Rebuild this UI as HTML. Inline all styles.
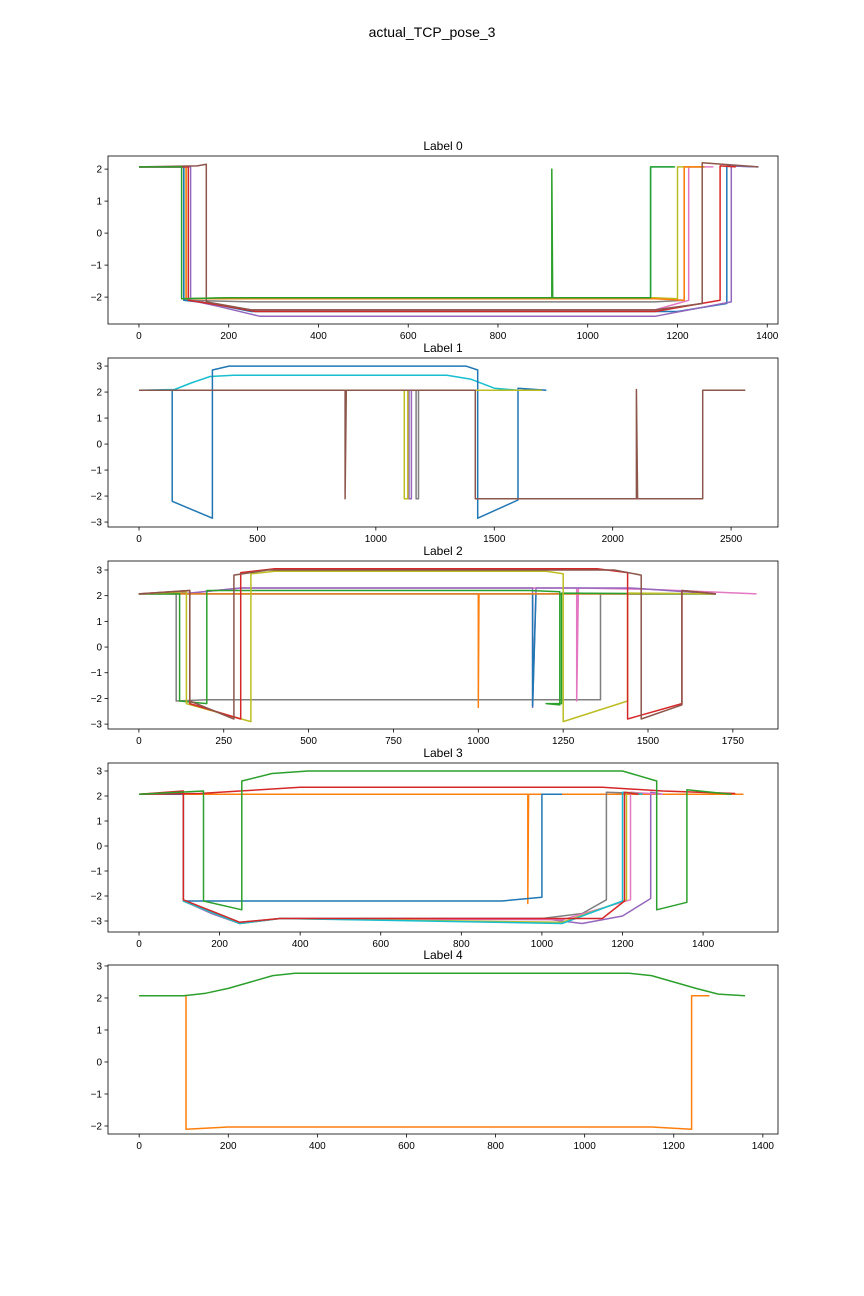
<!DOCTYPE html>
<html><head><meta charset="utf-8"><style>
body{margin:0;background:#fff;}
svg{display:block;font-family:"Liberation Sans","DejaVu Sans",sans-serif;}
</style></head><body>
<svg id="fig" width="864" height="1296">
<text x="432" y="37" text-anchor="middle" font-size="14">actual_TCP_pose_3</text>
</svg>
<script>
const C={blue:'#1f77b4',orange:'#ff7f0e',green:'#2ca02c',red:'#d62728',purple:'#9467bd',brown:'#8c564b',pink:'#e377c2',gray:'#7f7f7f',olive:'#bcbd22',cyan:'#17becf'};
// ---- Label 0 data ----
const p0Title='Label 0';
const p0XTicks=[0,200,400,600,800,1000,1200,1400];
const p0YTicks=[-2,-1,0,1,2];
const p0Series=[
 ['cyan',[[0,2.07],[100,2.07],[100,-2.05],[200,-2.02],[1140,-2.02],[1140,2.07],[1190,2.07]]],
 ['gray',[[0,2.07],[100,2.07],[100,-2.1],[250,-2.15],[1150,-2.15],[1215,-2.1],[1215,2.07],[1260,2.07]]],
 ['pink',[[0,2.07],[110,2.07],[110,-2.1],[250,-2.4],[1150,-2.4],[1225,-2.1],[1225,2.07],[1280,2.07]]],
 ['olive',[[0,2.07],[105,2.07],[105,-2.05],[200,-2.02],[1150,-2.02],[1200,-2.05],[1200,2.07],[1260,2.07]]],
 ['orange',[[0,2.07],[105,2.07],[105,-2.05],[250,-2.05],[1150,-2.05],[1215,-2.1],[1215,2.07],[1260,2.07]]],
 ['blue',[[0,2.07],[100,2.07],[100,-2.1],[160,-2.2],[250,-2.45],[1200,-2.45],[1310,-2.2],[1310,2.1],[1380,2.07]]],
 ['purple',[[0,2.07],[115,2.07],[115,-2.1],[180,-2.3],[270,-2.6],[1150,-2.6],[1320,-2.15],[1320,2.1],[1380,2.07]]],
 ['red',[[0,2.07],[110,2.07],[110,-2.1],[180,-2.25],[260,-2.45],[1150,-2.45],[1295,-2.1],[1295,2.1],[1330,2.07]]],
 ['brown',[[0,2.07],[130,2.1],[150,2.15],[150,-2.15],[250,-2.4],[1150,-2.4],[1255,-2.2],[1255,2.2],[1380,2.07]]],
 ['green',[[0,2.07],[95,2.07],[95,-2.05],[200,-2.02],[920,-2.02],[920,2.0],[922,-2.02],[1140,-2.02],[1140,2.07],[1195,2.07]]]
];
// ---- Label 1 data ----
const p1Title='Label 1';
const p1XTicks=[0,500,1000,1500,2000,2500];
const p1YTicks=[-3,-2,-1,0,1,2,3];
const p1Series=[
 ['cyan',[[0,2.07],[150,2.1],[220,2.35],[300,2.6],[400,2.65],[1300,2.65],[1400,2.5],[1500,2.15],[1600,2.07]]],
 ['blue',[[0,2.07],[140,2.07],[140,-2.2],[310,-2.85],[310,2.85],[380,3.0],[1380,3.0],[1430,2.85],[1430,-2.85],[1600,-2.15],[1600,2.15],[1720,2.07]]],
 ['gray',[[0,2.07],[1170,2.07],[1170,-2.1],[1180,-2.1],[1180,2.07],[1700,2.07]]],
 ['purple',[[0,2.07],[1140,2.07],[1140,-2.1],[1150,-2.1],[1150,2.07],[1700,2.07]]],
 ['olive',[[0,2.07],[1120,2.07],[1120,-2.1],[1135,-2.1],[1135,2.07],[1700,2.07]]],
 ['brown',[[0,2.07],[870,2.07],[870,-2.1],[875,2.07],[1420,2.07],[1420,-2.1],[2100,-2.1],[2100,2.1],[2105,-2.1],[2380,-2.1],[2380,2.07],[2560,2.07]]]
];
// ---- Label 2 data ----
const p2Title='Label 2';
const p2XTicks=[0,250,500,750,1000,1250,1500,1750];
const p2YTicks=[-3,-2,-1,0,1,2,3];
const p2Series=[
 ['cyan',[[0,2.07],[1700,2.07]]],
 ['gray',[[0,2.07],[110,2.07],[110,-2.1],[200,-2.05],[1360,-2.05],[1360,2.07],[1700,2.07]]],
 ['pink',[[0,2.07],[150,2.1],[300,2.3],[1290,2.3],[1290,-2.1],[1295,2.3],[1500,2.25],[1820,2.07]]],
 ['purple',[[0,2.07],[150,2.1],[300,2.3],[1160,2.3],[1160,-2.35],[1170,2.3],[1450,2.3],[1700,2.07]]],
 ['blue',[[0,2.07],[1160,2.07],[1160,-2.3],[1170,2.07],[1700,2.07]]],
 ['orange',[[0,2.07],[1000,2.07],[1000,-2.35],[1002,2.07],[1700,2.07]]],
 ['green',[[0,2.07],[120,2.07],[120,-2.1],[200,-2.2],[200,2.2],[1150,2.2],[1240,2.15],[1240,-2.25],[1200,-2.2],[1245,-2.2],[1245,2.1],[1700,2.07]]],
 ['olive',[[0,2.07],[140,2.15],[140,-2.2],[330,-2.9],[330,2.85],[400,2.95],[1200,2.95],[1250,2.85],[1250,-2.9],[1440,-2.1],[1440,2.1],[1700,2.07]]],
 ['red',[[0,2.07],[150,2.2],[150,-2.2],[300,-2.8],[300,2.9],[400,3.05],[1350,3.05],[1440,2.9],[1440,-2.8],[1600,-2.2],[1600,2.2],[1700,2.07]]],
 ['brown',[[0,2.07],[150,2.2],[150,-2.1],[280,-2.8],[280,2.8],[380,3.0],[1400,3.0],[1480,2.8],[1480,-2.8],[1600,-2.25],[1600,2.2],[1700,2.07]]]
];
// ---- Label 3 data ----
const p3Title='Label 3';
const p3XTicks=[0,200,400,600,800,1000,1200,1400];
const p3YTicks=[-3,-2,-1,0,1,2,3];
const p3Series=[
 ['orange',[[0,2.07],[965,2.07],[965,-2.3],[967,2.07],[1500,2.07]]],
 ['blue',[[0,2.07],[110,2.07],[110,-2.2],[200,-2.2],[900,-2.2],[1000,-2.05],[1000,2.07],[1050,2.07]]],
 ['gray',[[0,2.07],[110,2.1],[110,-2.2],[180,-2.6],[250,-3.05],[350,-2.9],[1000,-2.9],[1100,-2.7],[1160,-2.15],[1160,2.15],[1250,2.1]]],
 ['purple',[[0,2.07],[110,2.1],[110,-2.2],[180,-2.7],[250,-3.1],[350,-2.9],[1000,-2.9],[1100,-3.1],[1200,-2.8],[1270,-2.1],[1270,2.15],[1300,2.07]]],
 ['pink',[[0,2.07],[110,2.1],[110,-2.2],[250,-3.1],[350,-2.9],[1050,-2.95],[1220,-2.15],[1220,2.15],[1300,2.07]]],
 ['olive',[[0,2.07],[110,2.1],[110,-2.2],[250,-3.1],[350,-2.9],[1050,-3.05],[1210,-2.15],[1210,2.15],[1250,2.07]]],
 ['cyan',[[0,2.07],[110,2.1],[110,-2.2],[250,-3.1],[350,-2.9],[1050,-3.1],[1200,-2.2],[1200,2.15],[1250,2.07]]],
 ['red',[[0,2.07],[150,2.1],[250,2.2],[400,2.35],[1150,2.35],[1300,2.2],[1480,2.1]]],
 ['red',[[0,2.07],[110,2.2],[110,-2.15],[250,-3.05],[350,-2.9],[1000,-2.9],[1150,-2.9],[1205,-2.2],[1205,2.15],[1240,2.07]]],
 ['green',[[0,2.07],[160,2.2],[160,-2.2],[255,-2.55],[255,2.6],[330,2.9],[420,3.0],[1200,3.0],[1285,2.6],[1285,-2.55],[1360,-2.25],[1360,2.25],[1470,2.07]]]
];
// ---- Label 4 data ----
const p4Title='Label 4';
const p4XTicks=[0,200,400,600,800,1000,1200,1400];
const p4YTicks=[-2,-1,0,1,2,3];
const p4Series=[
 ['orange',[[0,2.07],[105,2.07],[105,-2.1],[200,-2.03],[1150,-2.03],[1240,-2.1],[1240,2.07],[1280,2.07]]],
 ['green',[[0,2.07],[100,2.07],[150,2.15],[200,2.3],[250,2.5],[300,2.7],[350,2.77],[1100,2.77],[1150,2.7],[1200,2.5],[1250,2.3],[1300,2.12],[1360,2.07]]]
];

const panels=[
 {title:p0Title,xt:p0XTicks,yt:p0YTicks,s:p0Series,top:156,bot:324,xmin:-69,xmax:1424,ymin:-2.84,ymax:2.41},
 {title:p1Title,xt:p1XTicks,yt:p1YTicks,s:p1Series,top:358,bot:527,xmin:-131,xmax:2698,ymin:-3.19,ymax:3.31},
 {title:p2Title,xt:p2XTicks,yt:p2YTicks,s:p2Series,top:561,bot:729,xmin:-91,xmax:1883,ymin:-3.19,ymax:3.35},
 {title:p3Title,xt:p3XTicks,yt:p3YTicks,s:p3Series,top:763,bot:932,xmin:-77,xmax:1586,ymin:-3.44,ymax:3.32},
 {title:p4Title,xt:p4XTicks,yt:p4YTicks,s:p4Series,top:965,bot:1134,xmin:-70,xmax:1434,ymin:-2.25,ymax:3.03}
];
const L=108,R=778,NS='http://www.w3.org/2000/svg';
const fig=document.getElementById('fig');
function mk(t,a,p){const e=document.createElementNS(NS,t);for(const k in a)e.setAttribute(k,a[k]);p.appendChild(e);return e;}
panels.forEach((P,i)=>{
 const g=mk('g',{},fig);
 
 
 const X=v=>L+(v-P.xmin)/(P.xmax-P.xmin)*(R-L);
 const Y=v=>P.bot-(v-P.ymin)/(P.ymax-P.ymin)*(P.bot-P.top);
 const cp=mk('clipPath',{id:'cp'+i},g);mk('rect',{x:L,y:P.top,width:R-L,height:P.bot-P.top},cp);
 const lg=mk('g',{'clip-path':'url(#cp'+i+')'},g);
 P.s.forEach((s,j)=>{
  const pl=mk('polyline',{points:s[1].map(p=>X(p[0]).toFixed(1)+','+Y(p[1]).toFixed(1)).join(' '),fill:'none',stroke:C[s[0]],'stroke-width':1.5,'stroke-linejoin':'round'},lg);
  
  
 });
 const fr=mk('rect',{x:L,y:P.top,width:R-L,height:P.bot-P.top,fill:'none',stroke:'#000','stroke-width':0.8},g);
 
 
 P.xt.forEach(v=>{const x=X(v);mk('line',{x1:x,x2:x,y1:P.bot,y2:P.bot+3.5,stroke:'#000','stroke-width':0.8},g);
  const t=mk('text',{x:x,y:P.bot+15,'text-anchor':'middle','font-size':10},g);t.textContent=v;
  
  });
 P.yt.forEach(v=>{const y=Y(v);mk('line',{x1:L-3.5,x2:L,y1:y,y2:y,stroke:'#000','stroke-width':0.8},g);
  const t=mk('text',{x:L-6,y:y+3.5,'text-anchor':'end','font-size':10},g);t.textContent=v<0?'\u2212'+(-v):v;
  
  });
 const tt=mk('text',{x:(L+R)/2,y:P.top-6,'text-anchor':'middle','font-size':12},g);tt.textContent=P.title;
 
 
});
</script>
</body></html>
